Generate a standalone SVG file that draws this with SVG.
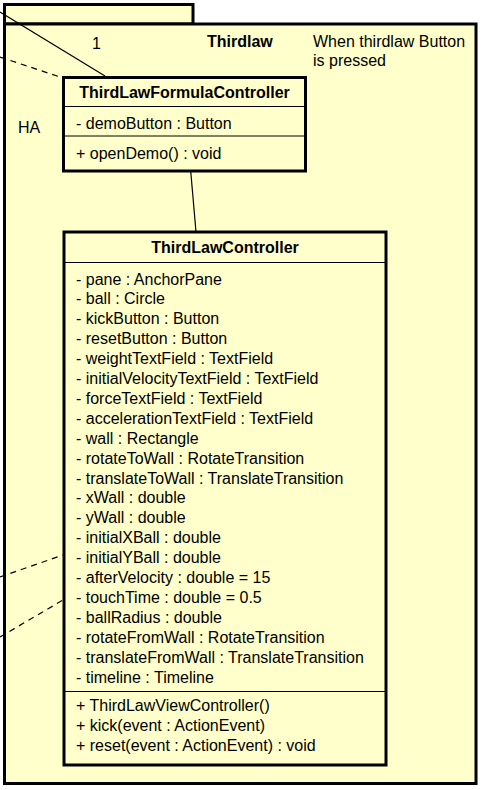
<svg xmlns="http://www.w3.org/2000/svg" width="483" height="790" viewBox="0 0 483 790">
<style>
text{font-family:"Liberation Sans",Arial,sans-serif;font-size:16px;fill:#000}
.b{font-weight:bold}
.m{text-anchor:middle}
.box{fill:#ffffcc;stroke:#000;stroke-width:3}
.sep{stroke:#000;stroke-width:1}
.ln{stroke:#000;stroke-width:1.2;fill:none}
.dash{stroke-dasharray:6,5}
</style>
<rect width="483" height="790" fill="#fff"/>
<g id="package-Thirdlaw">
<rect class="box" x="4.5" y="4.5" width="188.5" height="19.5"/>
<rect class="box" x="4.5" y="24" width="471.5" height="759.5"/>
<text class="b" x="207" y="47">Thirdlaw</text>
<text x="313" y="47">When thirdlaw Button</text>
<text x="313" y="66">is pressed</text>
<text x="18" y="133">HA</text>
</g>
<g id="connectors">
<line class="ln" x1="0" y1="12" x2="105" y2="76"/>
<line class="ln dash" x1="0" y1="57" x2="63" y2="78"/>
<line class="ln" x1="190.7" y1="171" x2="196" y2="232"/>
<line class="ln dash" x1="0" y1="577" x2="63" y2="555"/>
<line class="ln dash" x1="0" y1="637" x2="63" y2="600"/>
<text x="92" y="49">1</text>
</g>
<g id="ThirdLawFormulaController">
<rect class="box" x="63.5" y="77.5" width="242" height="93.5"/>
<line class="sep" x1="63.5" y1="106.5" x2="305.5" y2="106.5"/>
<line class="sep" x1="63.5" y1="136" x2="305.5" y2="136"/>
<text class="b m" x="184.5" y="98">ThirdLawFormulaController</text>
<text x="76" y="129">- demoButton : Button</text>
<text x="76" y="159">+ openDemo() : void</text>
</g>
<g id="ThirdLawController">
<rect class="box" x="64" y="232" width="322" height="533"/>
<line class="sep" x1="64" y1="262.5" x2="386" y2="262.5"/>
<line class="sep" x1="64" y1="691.5" x2="386" y2="691.5"/>
<text class="b m" x="225" y="253">ThirdLawController</text>
<text x="76" y="284.5">- pane : AnchorPane</text>
<text x="76" y="304.4">- ball : Circle</text>
<text x="76" y="324.3">- kickButton : Button</text>
<text x="76" y="344.2">- resetButton : Button</text>
<text x="76" y="364.1">- weightTextField : TextField</text>
<text x="76" y="384">- initialVelocityTextField : TextField</text>
<text x="76" y="403.9">- forceTextField : TextField</text>
<text x="76" y="423.8">- accelerationTextField : TextField</text>
<text x="76" y="443.7">- wall : Rectangle</text>
<text x="76" y="463.6">- rotateToWall : RotateTransition</text>
<text x="76" y="483.5">- translateToWall : TranslateTransition</text>
<text x="76" y="503.4">- xWall : double</text>
<text x="76" y="523.3">- yWall : double</text>
<text x="76" y="543.2">- initialXBall : double</text>
<text x="76" y="563.1">- initialYBall : double</text>
<text x="76" y="583">- afterVelocity : double = 15</text>
<text x="76" y="602.9">- touchTime : double = 0.5</text>
<text x="76" y="622.8">- ballRadius : double</text>
<text x="76" y="642.7">- rotateFromWall : RotateTransition</text>
<text x="76" y="662.6">- translateFromWall : TranslateTransition</text>
<text x="76" y="682.5">- timeline : Timeline</text>
<text x="76" y="711">+ ThirdLawViewController()</text>
<text x="76" y="731">+ kick(event : ActionEvent)</text>
<text x="76" y="751">+ reset(event : ActionEvent) : void</text>
</g>
</svg>
